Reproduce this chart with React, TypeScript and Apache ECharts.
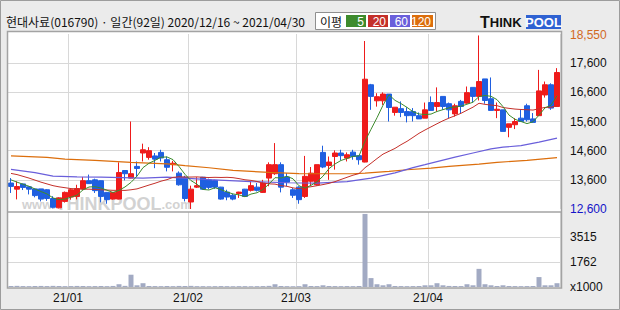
import React, { useEffect, useRef } from 'react';
import * as echarts from 'echarts';

const dates = [
  '2020/12/16','2020/12/17','2020/12/18','2020/12/21','2020/12/22','2020/12/23','2020/12/24','2020/12/28','2020/12/29','2020/12/30',
  '2021/01/04','2021/01/05','2021/01/06','2021/01/07','2021/01/08','2021/01/11','2021/01/12','2021/01/13','2021/01/14','2021/01/15',
  '2021/01/18','2021/01/19','2021/01/20','2021/01/21','2021/01/22','2021/01/25','2021/01/26','2021/01/27','2021/01/28','2021/01/29',
  '2021/02/01','2021/02/02','2021/02/03','2021/02/04','2021/02/05','2021/02/08','2021/02/09','2021/02/10','2021/02/15','2021/02/16',
  '2021/02/17','2021/02/18','2021/02/19','2021/02/22','2021/02/23','2021/02/24','2021/02/25','2021/02/26',
  '2021/03/02','2021/03/03','2021/03/04','2021/03/05','2021/03/08','2021/03/09','2021/03/10','2021/03/11','2021/03/12','2021/03/15',
  '2021/03/16','2021/03/17','2021/03/18','2021/03/19','2021/03/22','2021/03/23','2021/03/24','2021/03/25','2021/03/26','2021/03/29',
  '2021/03/30','2021/03/31',
  '2021/04/01','2021/04/02','2021/04/05','2021/04/06','2021/04/07','2021/04/08','2021/04/09','2021/04/12','2021/04/13','2021/04/14',
  '2021/04/15','2021/04/16','2021/04/19','2021/04/20','2021/04/21','2021/04/22','2021/04/23','2021/04/26','2021/04/27','2021/04/28',
  '2021/04/29','2021/04/30'
];

const opens = [
  13490,13280,13460,13360,13290,13290,13260,12960,12640,12860,
  13010,13030,13290,13570,13600,13570,13170,12940,12940,13920,
  13660,14060,14520,14370,14420,14540,14290,14120,13830,13690,
  12840,13350,13690,13600,13580,13350,13180,13070,13130,13280,
  13240,13350,13170,13660,13810,14120,13700,13260,13350,13030,
  13550,13430,14540,14090,14400,14520,14345,14550,14430,14210,
  16860,16310,16310,16540,15910,16040,15940,15940,15800,15715,
  16250,16115,16460,16210,15860,16290,16230,16770,16460,17060,
  16380,15980,16000,15400,15490,15715,16140,15690,15800,16510,
  16860,16115
];
const closes = [
  13375,13370,13340,13280,13060,12940,12960,12660,12980,13170,
  13260,13300,13570,13470,13230,13030,12920,13170,13850,13810,
  13810,13990,14630,14600,14310,14350,14030,14170,13430,12960,
  13280,13400,13280,13340,13350,12940,13010,12940,13180,13030,
  13400,13240,13490,14120,14120,13350,13520,13070,12920,13720,
  13830,14120,14040,14210,14520,14430,14460,14400,14290,17050,
  16460,16450,16540,16080,16090,15910,15800,15800,15690,16000,
  15980,16250,16115,16000,16140,16115,16590,16460,16970,16320,
  15980,16020,15260,15520,15600,15600,15660,15570,16650,16860,
  16060,17280
];
const lows = [
  13150,12930,13250,13100,13000,12860,12880,12620,12620,12820,
  12920,12930,13260,13460,13150,12830,12780,12920,12930,13580,
  13650,13700,14230,14290,14000,14230,13890,13890,13400,12860,
  12600,13320,13260,13280,13290,12920,12900,12900,12980,13020,
  13200,13200,13150,13380,13770,13170,13380,12980,12780,12980,
  13400,13400,14000,13600,13950,14270,14230,14290,14120,14200,
  16000,16110,16170,15600,15800,15750,15570,15600,15690,15715,
  15980,15940,16000,15715,15770,15890,16210,16250,16320,16210,
  15980,15715,15260,15060,15340,15600,15600,15570,15800,16420,
  16000,16115
];
const highs = [
  13660,13550,13470,13370,13300,13290,13280,13040,13000,13200,
  13320,13430,13700,13780,13640,13580,13180,13180,14200,13930,
  15600,14230,14840,14720,14520,14630,14400,14250,13890,13740,
  13400,13690,13700,13640,13600,13360,13260,13120,13190,13290,
  13530,13490,13600,14200,14860,14200,13830,13320,13380,14420,
  14040,14120,14770,14400,14610,14630,14540,14630,14430,18360,
  16890,16570,16600,16540,16090,16290,16090,16060,15910,16250,
  16460,16770,16460,16250,16210,16340,16800,16770,18550,17060,
  17110,16250,16000,15520,15715,16000,16210,15890,17370,16970,
  16910,17430
];
const volumes = [
  70,80,65,60,70,75,65,80,70,60,
  65,75,70,60,65,70,60,75,195,80,
  866,120,267,70,65,60,70,60,75,70,
  80,60,60,55,60,65,60,55,60,60,
  55,60,65,80,195,70,60,55,60,195,
  70,65,120,70,65,60,65,60,70,5150,
  628,195,120,195,70,65,60,65,70,120,
  120,267,120,75,70,65,195,120,1278,195,
  120,70,120,70,65,60,65,70,700,120,
  120,267
];
const ma5 = [
  13600,13520,13450,13380,13285,13198,13116,12980,12920,12942,
  13006,13074,13256,13354,13366,13320,13244,13164,13240,13356,
  13512,13726,14018,14168,14268,14376,14384,14292,14058,13788,
  13574,13448,13270,13252,13330,13262,13184,13116,13084,13020,
  13112,13158,13268,13456,13674,13664,13720,13636,13396,13316,
  13412,13532,13726,13984,14144,14264,14332,14404,14420,14926,
  15332,15730,16158,16516,16324,16214,16084,15936,15858,15840,
  15854,15944,16007,16069,16097,16124,16192,16261,16455,16491,
  16464,16350,16110,15820,15676,15600,15528,15590,15816,16068,
  16160,16484
];
const ma20 = [
  13820,13780,13720,13660,13590,13520,13460,13400,13360,13330,
  13300,13290,13280,13280,13270,13260,13250,13240,13240,13237,
  13259,13290,13355,13421,13483,13554,13607,13683,13705,13695,
  13696,13701,13686,13680,13686,13681,13686,13674,13641,13602,
  13581,13544,13487,13463,13453,13403,13378,13323,13297,13335,
  13363,13399,13437,13480,13539,13613,13686,13759,13814,14015,
  14168,14329,14481,14579,14678,14806,14920,15056,15195,15309,
  15416,15523,15626,15716,15797,15881,15988,16091,16225,16188,
  16164,16143,16079,16051,16026,16011,16004,15992,16040,16083,
  16087,16139
];
// [day index, value]
const ma60 = [
  [0,13960],[4,13850],[7,13730],[11,13700],[15,13690],[22,13660],[26,13690],[33,13610],
  [40,13540],[46,13500],[51,13490],[56,13540],[60,13660],[64,13840],[67,14020],[69,14120],
  [74,14380],[77,14520],[80,14660],[82,14720],[85,14770],[88,14890],[91,15030]
];
const ma120 = [
  [0,14420],[6,14370],[9,14310],[14,14265],[20,14200],[26,14150],[29,14085],[33,14015],
  [37,13925],[43,13855],[48,13810],[57,13808],[59,13830],[63,13890],[66,13945],[70,14003],
  [73,14060],[78,14140],[81,14200],[86,14265],[91,14360]
];
const priceTicks = [13600, 14600, 15600, 16600, 17600];
const volTickValues = [0, 1762, 3524];
const volTickTexts = ['x1000', '1762', '3515'];

const UP = '#ee1b1b';
const DOWN = '#1f5fe0';
const C5 = '#3d8b2d';
const C20 = '#c4302a';
const C60 = '#6a5fdb';
const C120 = '#dc6e0c';
const GRIDC = '#d8d8d8';
const NUMFONT = 'Liberation Sans';
const KFONT = 'Noto Sans CJK KR';

export default function App() {
  const ref = useRef<HTMLDivElement>(null);
  useEffect(() => {
    document.body.style.margin = '0';
    const chart = echarts.init(ref.current as HTMLDivElement, null, { renderer: 'svg' });
    const monthStart = dates.map((d, i) => i > 0 && d.slice(0, 7) !== dates[i - 1].slice(0, 7));
    const maxHigh = Math.max(...highs);
    const minLow = Math.min(...lows);
    const candleData = opens.map((o, i) => [o, closes[i], lows[i], highs[i]]);
    const fmt = (v: number) => v.toLocaleString('en-US');

    const legendItems = [
      { t: '5', c: C5, x: 346, w: 20 },
      { t: '20', c: C20, x: 368, w: 20 },
      { t: '60', c: C60, x: 390, w: 20 },
      { t: '120', c: C120, x: 412, w: 21 },
    ];

    const graphic: any[] = [
      { type: 'rect', z: -1, shape: { x: 7, y: 31, width: 555, height: 257 }, style: { fill: '#ffffff' } },
      {
        type: 'text', z: -1, x: 22, y: 213,
        style: {
          text: '{a|www.}{b|THINKPOOL}{a|.com}', verticalAlign: 'bottom',
          rich: {
            a: { fontSize: 13, fontWeight: 'bold', fill: '#d2d2d2', fontFamily: 'Liberation Sans' },
            b: { fontSize: 18, fontWeight: 'bold', fill: '#d2d2d2', fontFamily: 'Liberation Sans' },
          },
        },
      },
      { type: 'rect', z: 10, shape: { x: 7.5, y: 31.5, width: 554, height: 256.5 }, style: { fill: 'none', stroke: '#a3a3a3', lineWidth: 1.5 } },
      { type: 'line', z: 10, shape: { x1: 7, y1: 212, x2: 562, y2: 212 }, style: { stroke: '#a3a3a3', lineWidth: 1.5 } },
      { type: 'rect', z: 10, shape: { x: 0.5, y: 0.5, width: 619, height: 309 }, style: { fill: 'none', stroke: '#9c9c9c', lineWidth: 1 } },
      {
        type: 'text', x: 6, y: 21,
        style: { text: '현대사료(016790) · 일간(92일) 2020/12/16 ~ 2021/04/30', fill: '#111', fontSize: 12, fontFamily: KFONT, verticalAlign: 'middle' },
      },
      { type: 'rect', shape: { x: 315.5, y: 12.5, width: 120, height: 17 }, style: { fill: '#fff', stroke: '#8f8f8f', lineWidth: 1 } },
      { type: 'text', x: 320, y: 21, style: { text: '이평', fill: '#111', fontSize: 12, fontFamily: KFONT, verticalAlign: 'middle' } },
      ...legendItems.flatMap((it) => [
        { type: 'rect', shape: { x: it.x, y: 15, width: it.w, height: 12 }, style: { fill: it.c } },
        { type: 'text', x: it.x + it.w - 2, y: 21.5, style: { text: it.t, fill: '#fff', fontSize: 12, fontFamily: NUMFONT, align: 'right', verticalAlign: 'middle' } },
      ]),
      {
        type: 'text', x: 480, y: 22,
        style: {
          text: '{t|T}{r|HINK}', verticalAlign: 'middle',
          rich: {
            t: { fontSize: 16, fontWeight: 'bold', fill: '#111', fontFamily: 'Liberation Sans' },
            r: { fontSize: 13, fontWeight: 'bold', fill: '#111', fontFamily: 'Liberation Sans' },
          },
        },
      },
      { type: 'rect', shape: { x: 526, y: 15, width: 35, height: 14 }, style: { fill: '#2f62d2' } },
      { type: 'text', x: 543.5, y: 22.5, style: { text: 'POOL', fill: '#fff', fontSize: 13, fontWeight: 'bold', fontFamily: 'Liberation Sans', align: 'center', verticalAlign: 'middle' } },
    ];

    const option: any = {
      animation: false,
      backgroundColor: '#ebebeb',
      grid: [
        { left: 8, top: 34, width: 552, height: 175 },
        { left: 8, top: 212, width: 552, height: 75 },
      ],
      xAxis: [
        {
          type: 'category', gridIndex: 0, data: dates, boundaryGap: true,
          axisLine: { show: false }, axisTick: { show: false }, axisLabel: { show: false },
          splitLine: { show: true, interval: (i: number) => monthStart[i], lineStyle: { color: GRIDC, width: 1 } },
        },
        {
          type: 'category', gridIndex: 1, data: dates, boundaryGap: true,
          axisLine: { show: false }, axisTick: { show: false },
          axisLabel: {
            show: true, interval: (i: number) => monthStart[i],
            formatter: (v: string) => v.slice(2, 7),
            color: '#111', fontSize: 12, fontFamily: NUMFONT, margin: 5, padding: [0, 6, 0, 0],
          },
          splitLine: { show: true, interval: (i: number) => monthStart[i], lineStyle: { color: GRIDC, width: 1 } },
        },
      ],
      yAxis: [
        {
          type: 'value', gridIndex: 0, position: 'right', min: 12600, max: 18600, interval: 1000,
          axisLine: { show: false }, axisTick: { show: false },
          axisLabel: {
            margin: 10, color: '#111', fontSize: 12, fontFamily: NUMFONT,
            formatter: (v: number) => (priceTicks.includes(v) ? fmt(v) : ''),
          },
          splitLine: { show: true, showMinLine: false, showMaxLine: false, lineStyle: { color: GRIDC, width: 1 } },
        },
        {
          type: 'value', gridIndex: 1, position: 'right', min: 0, max: 5286, interval: 1762,
          axisLine: { show: false }, axisTick: { show: false },
          axisLabel: {
            margin: 10, color: '#111', fontSize: 12, fontFamily: NUMFONT,
            formatter: (v: number) => {
              const k = volTickValues.indexOf(v);
              return k >= 0 ? volTickTexts[k] : '';
            },
          },
          splitLine: { show: true, showMinLine: false, showMaxLine: false, lineStyle: { color: GRIDC, width: 1 } },
        },
      ],
      series: [
        {
          type: 'candlestick', xAxisIndex: 0, yAxisIndex: 0, data: candleData, barWidth: 5,
          itemStyle: { color: UP, color0: DOWN, borderColor: UP, borderColor0: DOWN, borderWidth: 1 },
          markLine: {
            silent: true, symbol: ['none', 'none'], animation: false,
            lineStyle: { color: 'rgba(0,0,0,0)', width: 0 },
            label: { position: 'end', distance: 10, fontSize: 12, fontFamily: NUMFONT },
            data: [
              { yAxis: maxHigh, label: { formatter: fmt(maxHigh), color: '#d2691e' } },
              { yAxis: minLow, label: { formatter: fmt(minLow), color: '#1414c8' } },
            ],
          },
        },
        { type: 'line', xAxisIndex: 0, yAxisIndex: 0, data: ma120, symbol: 'none', lineStyle: { color: C120, width: 1.2 } },
        { type: 'line', xAxisIndex: 0, yAxisIndex: 0, data: ma60, symbol: 'none', lineStyle: { color: C60, width: 1.2 } },
        { type: 'line', xAxisIndex: 0, yAxisIndex: 0, data: ma20, symbol: 'none', lineStyle: { color: C20, width: 1 } },
        { type: 'line', xAxisIndex: 0, yAxisIndex: 0, data: ma5, symbol: 'none', lineStyle: { color: C5, width: 1 } },
        {
          type: 'bar', xAxisIndex: 1, yAxisIndex: 1, data: volumes, barWidth: 5,
          itemStyle: { color: '#a2aac3' },
        },
      ],
      graphic,
    };
    chart.setOption(option);
    return () => chart.dispose();
  }, []);
  return <div ref={ref} style={{ position: 'absolute', left: 0, top: 0, width: 620, height: 310 }} />;
}
